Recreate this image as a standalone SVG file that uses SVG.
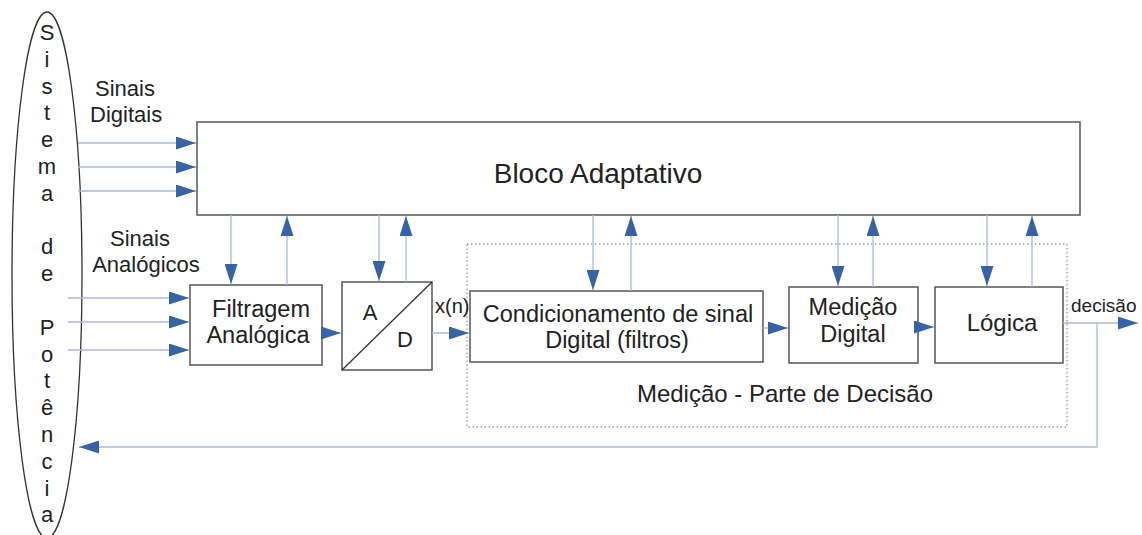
<svg xmlns="http://www.w3.org/2000/svg" width="1142" height="535" viewBox="0 0 1142 535">
  <defs>
    <marker id="arrow" markerUnits="userSpaceOnUse" markerWidth="20" markerHeight="13" refX="20" refY="6.5" orient="auto">
      <path d="M0,0 L20,6.5 L0,13 Z" fill="#3563a6"/>
    </marker>
    <style>
      .box { fill: #ffffff; stroke: #555555; stroke-width: 1.5; }
      .lbl { font-family: "Liberation Sans", Arial, sans-serif; fill: #222222; }
      .conn { fill: none; stroke: #a9b9da; stroke-width: 1.3; marker-end: url(#arrow); }
    </style>
  </defs>
  <rect width="1142" height="535" fill="#ffffff"/>

  <!-- power system, name written vertically one letter per line -->
  <g id="sistema">
    <ellipse cx="47" cy="275" rx="35" ry="263" fill="none" stroke="#333333" stroke-width="1.3"/>
    <g class="lbl" font-size="22" text-anchor="middle">
      <text x="47" y="40">S</text>
      <text x="47" y="66.8">i</text>
      <text x="47" y="93.6">s</text>
      <text x="47" y="120.4">t</text>
      <text x="47" y="147.2">e</text>
      <text x="47" y="174">m</text>
      <text x="47" y="200.8">a</text>
      <text x="47" y="254.4">d</text>
      <text x="47" y="281.2">e</text>
      <text x="47" y="334.8">P</text>
      <text x="47" y="361.6">o</text>
      <text x="47" y="388.4">t</text>
      <text x="47" y="415.2">ê</text>
      <text x="47" y="442">n</text>
      <text x="47" y="468.8">c</text>
      <text x="47" y="495.6">i</text>
      <text x="47" y="522.4">a</text>
    </g>
  </g>

  <g id="labels-entrada" class="lbl" font-size="22">
    <text x="95" y="96">Sinais</text>
    <text x="90" y="122">Digitais</text>
    <text x="140" y="246" text-anchor="middle">Sinais</text>
    <text x="146" y="272" text-anchor="middle">Analógicos</text>
  </g>

  <g id="bloco-adaptativo">
    <rect class="box" x="197" y="122" width="883" height="93"/>
    <text class="lbl" x="598" y="183" font-size="28" text-anchor="middle">Bloco Adaptativo</text>
  </g>

  <g id="medicao-decisao">
    <rect x="467" y="244" width="600" height="183" fill="none" stroke="#999999" stroke-width="1.3" stroke-dasharray="1.5 2.5"/>
    <text class="lbl" x="785" y="402" font-size="24" text-anchor="middle">Medição - Parte de Decisão</text>
  </g>

  <g id="filtragem">
    <rect class="box" x="190" y="285" width="132" height="80"/>
    <text class="lbl" x="261" y="317" font-size="23.5" text-anchor="middle">Filtragem</text>
    <text class="lbl" x="258" y="343" font-size="23.5" text-anchor="middle">Analógica</text>
  </g>

  <g id="conversor-ad">
    <rect class="box" x="342" y="282" width="90" height="88"/>
    <line x1="342" y1="370" x2="432" y2="282" stroke="#333333" stroke-width="1.3"/>
    <text class="lbl" x="370" y="320" font-size="22" text-anchor="middle">A</text>
    <text class="lbl" x="405" y="347" font-size="22" text-anchor="middle">D</text>
  </g>

  <g id="condicionamento">
    <rect class="box" x="470" y="291" width="293" height="71"/>
    <text class="lbl" x="618" y="322" font-size="23.5" text-anchor="middle">Condicionamento de sinal</text>
    <text class="lbl" x="617" y="348" font-size="23.5" text-anchor="middle">Digital (filtros)</text>
  </g>

  <g id="medicao-digital">
    <rect class="box" x="789" y="287" width="129" height="76"/>
    <text class="lbl" x="853" y="315" font-size="23.5" text-anchor="middle">Medição</text>
    <text class="lbl" x="853" y="342" font-size="23.5" text-anchor="middle">Digital</text>
  </g>

  <g id="logica">
    <rect class="box" x="935" y="287" width="128" height="76"/>
    <text class="lbl" x="1002" y="331" font-size="24" text-anchor="middle">Lógica</text>
  </g>

  <g id="signal-labels" class="lbl">
    <text x="435" y="313" font-size="20">x(n)</text>
    <text x="1071" y="312" font-size="19">decisão</text>
  </g>

  <g id="connectors">
    <!-- digital inputs -->
    <line class="conn" x1="78" y1="143" x2="196" y2="143"/>
    <line class="conn" x1="78" y1="167" x2="196" y2="167"/>
    <line class="conn" x1="78" y1="191" x2="196" y2="191"/>
    <!-- analog inputs -->
    <line class="conn" x1="68" y1="298" x2="189" y2="298"/>
    <line class="conn" x1="68" y1="322" x2="189" y2="322"/>
    <line class="conn" x1="68" y1="350" x2="189" y2="350"/>
    <!-- adaptive block links -->
    <line class="conn" x1="231" y1="215" x2="231" y2="284"/>
    <line class="conn" x1="287" y1="285" x2="287" y2="216"/>
    <line class="conn" x1="379" y1="215" x2="379" y2="281"/>
    <line class="conn" x1="406" y1="282" x2="406" y2="216"/>
    <line class="conn" x1="593" y1="215" x2="593" y2="290"/>
    <line class="conn" x1="631" y1="291" x2="631" y2="216"/>
    <line class="conn" x1="838" y1="215" x2="838" y2="286"/>
    <line class="conn" x1="873" y1="287" x2="873" y2="216"/>
    <line class="conn" x1="987" y1="215" x2="987" y2="286"/>
    <line class="conn" x1="1032" y1="287" x2="1032" y2="216"/>
    <!-- main chain -->
    <line class="conn" x1="322" y1="333" x2="341" y2="333"/>
    <line class="conn" x1="432" y1="333" x2="469" y2="333"/>
    <line class="conn" x1="763" y1="328" x2="788" y2="328"/>
    <line class="conn" x1="918" y1="327" x2="934" y2="327"/>
    <line class="conn" x1="1063" y1="323" x2="1138" y2="323"/>
    <!-- feedback to power system -->
    <polyline class="conn" points="1097,323 1097,447 79,447"/>
  </g>
</svg>
